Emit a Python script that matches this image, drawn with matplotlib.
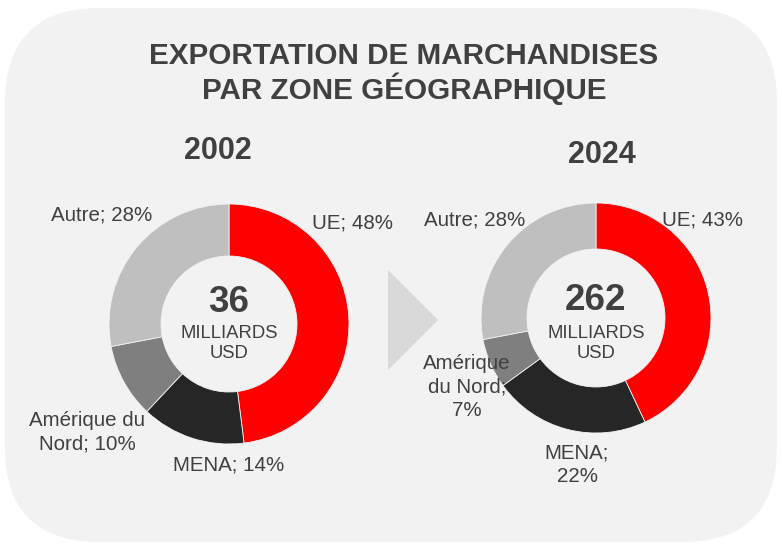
import matplotlib.pyplot as plt
from matplotlib.patches import FancyBboxPatch, Polygon

plt.rcParams['font.family'] = ['Liberation Sans', 'DejaVu Sans']

years = ['2002', '2024']
totals = ['36', '262']
zones = ['UE', 'MENA', 'Amérique du Nord', 'Autre']
shares_2002 = [48, 14, 10, 28]
shares_2024 = [43, 22, 7, 28]
colors = ['#ff0000', '#262626', '#7f7f7f', '#bfbfbf']
txt = '#404040'

W, H = 782, 546
fig = plt.figure(figsize=(W / 100, H / 100), dpi=100)
ax = fig.add_axes([0, 0, 1, 1])
ax.set_xlim(0, W)
ax.set_ylim(0, H)
ax.axis('off')


def Y(y):
    # image pixel row -> data y
    return H - y


bg = FancyBboxPatch((5, Y(542)), 772, 534, boxstyle='round,pad=0,rounding_size=95',
                    fc='#f2f2f2', ec='none', zorder=0)
ax.add_patch(bg)

ax.text(404, Y(56), 'EXPORTATION DE MARCHANDISES', ha='center', va='center',
        fontsize=21.3, fontweight='bold', color=txt)
ax.text(404, Y(89), 'PAR ZONE GÉOGRAPHIQUE', ha='center', va='center',
        fontsize=21.3, fontweight='bold', color=txt)

# arrow between the two donuts
ax.add_patch(Polygon([(388, Y(270)), (438, Y(320)), (388, Y(370))],
                     closed=True, fc='#d9d9d9', ec='none', zorder=1))

donuts = [
    dict(share=shares_2002, cx=229, cy=324, r=120, w=52, yx=218, yy=151,
         labels=[('UE; 48%', 353, 223), ('MENA; 14%', 229, 465),
                 ('Amérique du\nNord; 10%', 87, 432), ('Autre; 28%', 102, 215)],
         ty=302),
    dict(share=shares_2024, cx=596, cy=318, r=115, w=46, yx=602, yy=155,
         labels=[('UE; 43%', 703, 220), ('MENA;\n22%', 577, 465),
                 ('Amérique\ndu Nord;\n7%', 467, 387), ('Autre; 28%', 475, 220)],
         ty=301),
]

for i, d in enumerate(donuts):
    ax.pie(d['share'], colors=colors, startangle=90, counterclock=False,
           center=(d['cx'], Y(d['cy'])), radius=d['r'], frame=True,
           wedgeprops=dict(width=d['w'], edgecolor='#f2f2f2', linewidth=0.6))
    ax.text(d['yx'], Y(d['yy']), years[i], ha='center', va='center',
            fontsize=22, fontweight='bold', color=txt)
    ax.text(d['cx'], Y(d['ty']), totals[i], ha='center', va='center',
            fontsize=26.5, fontweight='bold', color=txt)
    ax.text(d['cx'], Y(d['ty'] + 32), 'MILLIARDS', ha='center', va='center',
            fontsize=13.3, color=txt)
    ax.text(d['cx'], Y(d['ty'] + 52), 'USD', ha='center', va='center',
            fontsize=13.3, color=txt)
    for lab, lx, ly in d['labels']:
        ax.text(lx, Y(ly), lab, ha='center', va='center', fontsize=14.8,
                color=txt, linespacing=1.3)

ax.set_xlim(0, W)
ax.set_ylim(0, H)
ax.set_aspect('auto')
fig.savefig('out.png', dpi=100, facecolor='white')
